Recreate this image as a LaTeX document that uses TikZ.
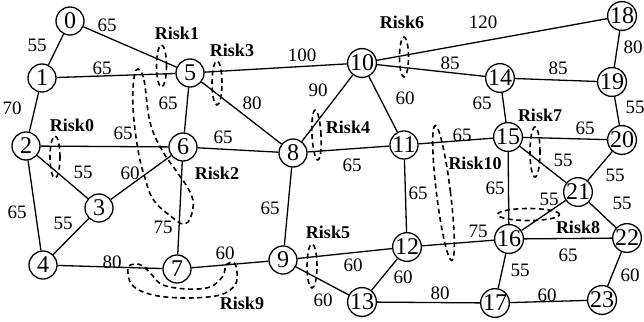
\documentclass[tikz,border=0pt]{standalone}
\usepackage{fontspec}
\newfontfamily\tnr{LiberationSerif}[Extension=.ttf,UprightFont=*-Regular,BoldFont=*-Bold]
\begin{document}
\begin{tikzpicture}[x=1pt,y=-1pt,
 vtx/.style={circle,draw,line width=1.3pt,minimum size=28pt,inner sep=0pt,fill=white,font=\tnr\fontsize{24}{24}\selectfont},
 edge/.style={line width=1.3pt},
 wt/.style={font=\tnr\fontsize{19}{19}\selectfont,inner sep=0pt},
 risklbl/.style={font=\tnr\bfseries\fontsize{18}{18}\selectfont,inner sep=0pt},
 riskloop/.style={line width=1.6pt,dash pattern=on 5pt off 3.5pt}]
\useasboundingbox (0,0) rectangle (644,321);
% vertices
\node[vtx] (n0) at (70,21) {0};
\node[vtx] (n1) at (42,78) {1};
\node[vtx] (n2) at (26,146) {2};
\node[vtx] (n3) at (99,208) {3};
\node[vtx] (n4) at (43,265) {4};
\node[vtx] (n5) at (190,73) {5};
\node[vtx] (n6) at (183,147) {6};
\node[vtx] (n7) at (177,269) {7};
\node[vtx] (n8) at (293,153) {8};
\node[vtx] (n9) at (283,260) {9};
\node[vtx] (n10) at (362,63) {10};
\node[vtx] (n11) at (404,145) {11};
\node[vtx] (n12) at (407,247) {12};
\node[vtx] (n13) at (362,302) {13};
\node[vtx] (n14) at (500,78) {14};
\node[vtx] (n15) at (508,137) {15};
\node[vtx] (n16) at (509,239) {16};
\node[vtx] (n17) at (495,303) {17};
\node[vtx] (n18) at (622,16) {18};
\node[vtx] (n19) at (612,82) {19};
\node[vtx] (n20) at (622,140) {20};
\node[vtx] (n21) at (578,192) {21};
\node[vtx] (n22) at (627,238) {22};
\node[vtx] (n23) at (602,300) {23};
% edges
\foreach \a/\b in {0/1,0/5,1/5,1/2,2/6,2/3,2/4,3/6,3/4,5/6,5/8,5/10,6/8,6/7,4/7,7/9,8/9,8/10,8/11,9/12,9/13,10/11,10/14,10/18,11/12,11/15,12/16,12/13,13/17,14/15,14/19,15/20,15/21,15/16,16/21,16/22,16/17,17/23,18/19,19/20,20/21,21/22,22/23}
  \draw[edge] (n\a) -- (n\b);
% weights
\node[wt] (w01) at (37,45) {55};
\node[wt] (w05) at (107,25) {65};
\node[wt] (w15) at (102,68) {65};
\node[wt] (w12) at (12,108) {70};
\node[wt] (w26) at (123,133) {65};
\node[wt] (w56) at (168,103) {65};
\node[wt] (w68) at (223,137) {65};
\node[wt] (w58) at (252,103) {80};
\node[wt] (w510) at (302,55) {100};
\node[wt] (w810) at (318,90) {90};
\node[wt] (w23) at (83,172) {55};
\node[wt] (w36) at (130,173) {60};
\node[wt] (w24) at (17,212) {65};
\node[wt] (w34) at (63,223) {55};
\node[wt] (w67) at (163,227) {75};
\node[wt] (w89) at (270,208) {65};
\node[wt] (w47) at (112,262) {80};
\node[wt] (w79) at (225,253) {60};
\node[wt] (w913) at (323,300) {60};
\node[wt] (w912) at (353,265) {60};
\node[wt] (w1018) at (483,22) {120};
\node[wt] (w1819) at (633,47) {80};
\node[wt] (w1014) at (450,63) {85};
\node[wt] (w1419) at (558,68) {85};
\node[wt] (w1011) at (405,98) {60};
\node[wt] (w1415) at (482,103) {65};
\node[wt] (w1920) at (635,107) {55};
\node[wt] (w811) at (352,165) {65};
\node[wt] (w1115) at (462,135) {65};
\node[wt] (w1520) at (585,128) {65};
\node[wt] (w1521) at (563,160) {55};
\node[wt] (w1112) at (418,193) {65};
\node[wt] (w1516) at (495,188) {65};
\node[wt] (w2021) at (615,175) {55};
\node[wt] (w2122) at (622,203) {55};
\node[wt] (w1621) at (549,199) {55};
\node[wt] (w1216) at (478,231) {75};
\node[wt] (w1622) at (568,255) {65};
\node[wt] (w1213) at (403,277) {60};
\node[wt] (w2223) at (630,275) {60};
\node[wt] (w1617) at (520,270) {55};
\node[wt] (w1317) at (440,293) {80};
\node[wt] (w1723) at (547,295) {60};
% risk labels
\node[risklbl] (r0) at (72,125) {Risk0};
\node[risklbl] (r1) at (177,33) {Risk1};
\node[risklbl] (r2) at (217,173) {Risk2};
\node[risklbl] (r3) at (232,50) {Risk3};
\node[risklbl] (r4) at (348,127) {Risk4};
\node[risklbl] (r5) at (328,232) {Risk5};
\node[risklbl] (r6) at (402,22) {Risk6};
\node[risklbl] (r7) at (540,115) {Risk7};
\node[risklbl] (r8) at (578,227) {Risk8};
\node[risklbl] (r9) at (242,303) {Risk9};
\node[risklbl] (r10) at (475,163) {Risk10};
% risk loops
\draw[riskloop] (55,157) ellipse [x radius=5pt, y radius=21pt];
\draw[riskloop] (161.5,66) ellipse [x radius=5pt, y radius=21pt];
\draw[riskloop] (217,83) ellipse [x radius=5pt, y radius=22pt];
\draw[riskloop, rotate around={3:(316.5,135)}] (316.5,135) ellipse [x radius=4.5pt, y radius=25pt];
\draw[riskloop] (312,266) ellipse [x radius=5pt, y radius=22pt];
\draw[riskloop] (404,57) ellipse [x radius=4.5pt, y radius=20pt];
\draw[riskloop] (535,152) ellipse [x radius=5pt, y radius=25pt];
\draw[riskloop] (528.5,214.5) ellipse [x radius=31pt, y radius=6pt];
\draw[riskloop, rotate around={7:(443.5,193)}] (443.5,193) ellipse [x radius=7pt, y radius=68pt];
\draw[riskloop] plot[smooth cycle, tension=0.7] coordinates {(138,69) (144,80) (150,122) (162,150) (177,172) (190,192) (193,208) (185,224) (168,214) (153,199) (145,178) (138,150) (133,108) (134,78)};
\draw[riskloop] plot[smooth cycle, tension=0.6] coordinates {(128,268) (132,285) (153,295) (187,298) (220,295) (235,285) (237,272) (234,263) (226,265) (223,276) (210,287) (187,289) (163,285) (152,275) (143,266) (135,264)};
\end{tikzpicture}
\end{document}
